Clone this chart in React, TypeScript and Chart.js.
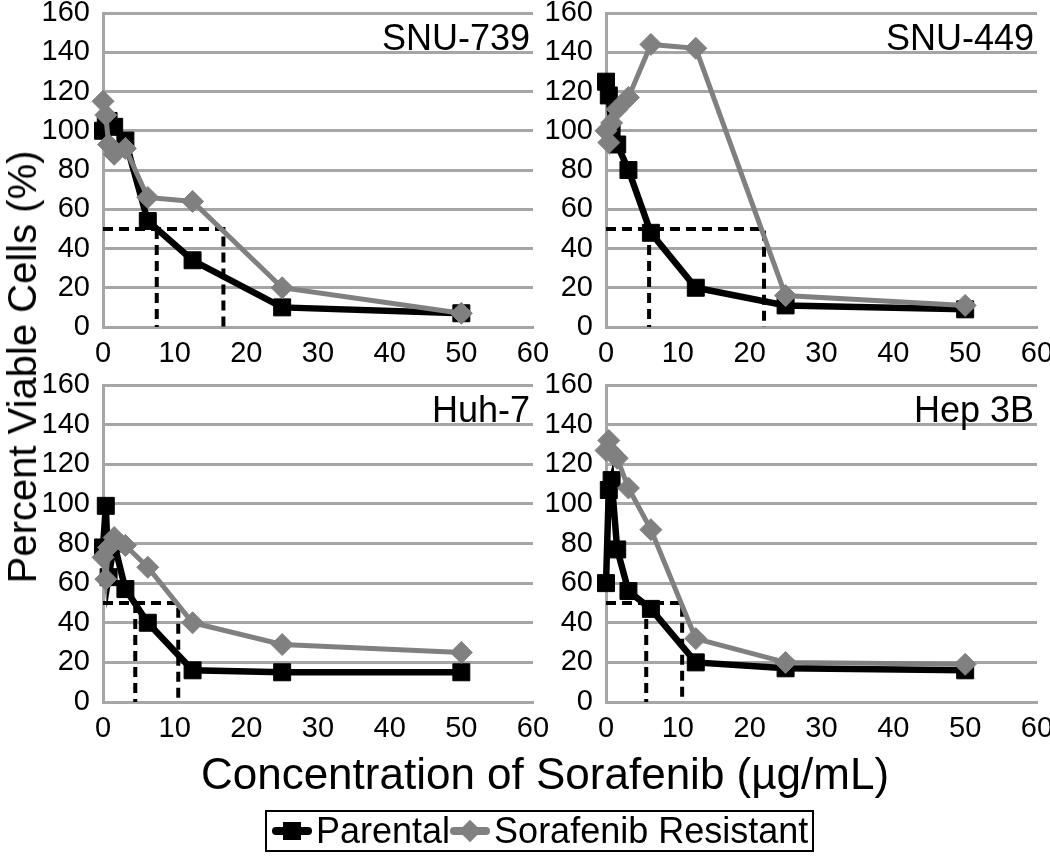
import React, { useEffect, useRef } from 'react';
import { Chart, registerables } from 'chart.js';

Chart.register(...registerables);

// ---------- data ----------
const concentrations = [0, 0.39, 0.78, 1.56, 3.125, 6.25, 12.5, 25, 50];
const panelNames = ['SNU-739', 'SNU-449', 'Huh-7', 'Hep 3B'];
const snu739Parental = [100, 104, 105, 102, 95, 54, 34, 10, 7];
const snu739Resistant = [115, 108, 93, 88, 91, 66, 64, 20, 7];
const snu449Parental = [125, 118, 100, 93, 80, 48, 20, 11, 9];
const snu449Resistant = [100, 94, 104, 111, 117, 144, 142, 16, 11];
const huh7Parental = [78, 99, 63, 80, 57, 40, 16, 15, 15];
const huh7Resistant = [73, 62, 78, 83, 79, 68, 40, 29, 25];
const hep3bParental = [60, 107, 112, 77, 56, 47, 20, 17, 16];
const hep3bResistant = [127, 132, 126, 123, 108, 87, 32, 20, 19];
const ic50Parental = [7.5, 6.0, 4.5, 5.6];
const ic50Resistant = [16.8, 22, 10.5, 10.6];
const halfViability = 50;
const xRange = [0, 60, 10];
const yRange = [0, 160, 20];
const seriesNames = ['Parental', 'Sorafenib Resistant'];
const xTitle = 'Concentration of Sorafenib (µg/mL)';
const yTitle = 'Percent Viable Cells (%)';

const parentalSeries = [snu739Parental, snu449Parental, huh7Parental, hep3bParental];
const resistantSeries = [snu739Resistant, snu449Resistant, huh7Resistant, hep3bResistant];

// ---------- style ----------
const FONT = '"Liberation Sans", Arial, sans-serif';
const GRAY = '#808080';
const GRID = '#a6a6a6';
const W = 1050;
const H = 857;
// chart areas: [left, right, top, bottom]
const AREAS = [
  [103, 533, 10, 327],
  [606, 1037, 10, 327],
  [103, 533, 385, 702],
  [606, 1037, 385, 702],
];
const YAXIS_W = 80;
const XAXIS_H = 50;

const panelLabel = {
  id: 'panelLabel',
  afterDatasetsDraw(chart: any, _args: any, opts: any) {
    const { ctx, chartArea } = chart;
    ctx.save();
    ctx.font = `36px ${FONT}`;
    ctx.fillStyle = '#000';
    ctx.textAlign = 'right';
    ctx.textBaseline = 'alphabetic';
    ctx.fillText(opts.text, chartArea.right - 3, chartArea.top + 37);
    ctx.restore();
  },
};

function pts(vals: number[]) {
  return concentrations.map((c, i) => ({ x: c, y: vals[i] }));
}

function zeroPad(s: any) {
  s.paddingLeft = 0;
  s.paddingRight = 0;
  s.paddingTop = 0;
  s.paddingBottom = 0;
}

function makeConfig(i: number): any {
  const [L, R, T, B] = AREAS[i];
  const tickFont = { family: FONT, size: 29 };
  const dashed = {
    borderColor: '#000',
    borderWidth: 4,
    borderDash: [10, 6],
    pointRadius: 0,
    tension: 0,
    clip: false,
    order: 2,
  };
  return {
    type: 'line',
    data: {
      datasets: [
        {
          label: seriesNames[1],
          data: pts(resistantSeries[i]),
          borderColor: GRAY,
          backgroundColor: GRAY,
          borderWidth: 5,
          pointStyle: 'rectRot',
          pointRadius: 11,
          pointBackgroundColor: GRAY,
          pointBorderColor: GRAY,
          pointBorderWidth: 1,
          tension: 0,
          clip: false,
          order: 0,
        },
        {
          label: seriesNames[0],
          data: pts(parentalSeries[i]),
          borderColor: '#000',
          backgroundColor: '#000',
          borderWidth: 6.5,
          pointStyle: 'rect',
          pointRadius: 12,
          pointBackgroundColor: '#000',
          pointBorderColor: '#000',
          pointBorderWidth: 1,
          tension: 0,
          clip: false,
          order: 1,
        },
        {
          label: 'IC50 resistant',
          data: [
            { x: 0, y: halfViability },
            { x: ic50Resistant[i], y: halfViability },
            { x: ic50Resistant[i], y: 0 },
          ],
          ...dashed,
        },
        {
          label: 'IC50 parental',
          data: [
            { x: ic50Parental[i], y: halfViability },
            { x: ic50Parental[i], y: 0 },
          ],
          ...dashed,
        },
      ],
    },
    options: {
      responsive: false,
      animation: false,
      devicePixelRatio: 1,
      events: [],
      layout: {
        padding: { left: L - YAXIS_W, top: T, right: W - R, bottom: H - B - XAXIS_H },
      },
      plugins: {
        legend: { display: false },
        tooltip: { enabled: false },
        panelLabel: { text: panelNames[i] },
      },
      scales: {
        x: {
          type: 'linear',
          min: xRange[0],
          max: xRange[1],
          ticks: { stepSize: xRange[2], font: tickFont, color: '#000', padding: 10, maxRotation: 0, autoSkip: false },
          grid: { display: false, drawTicks: false },
          border: { display: true, color: GRID, width: 3 },
          afterFit: (s: any) => {
            s.height = XAXIS_H;
            zeroPad(s);
          },
        },
        y: {
          type: 'linear',
          min: yRange[0],
          max: yRange[1],
          ticks: { stepSize: yRange[2], font: tickFont, color: '#000', padding: 13 },
          grid: { color: GRID, lineWidth: 3, drawTicks: false },
          border: { display: true, color: GRID, width: 3 },
          afterFit: (s: any) => {
            s.width = YAXIS_W;
            zeroPad(s);
          },
        },
      },
    },
    plugins: [panelLabel],
  };
}

function Panel({ index }: { index: number }) {
  const ref = useRef<HTMLCanvasElement>(null);
  useEffect(() => {
    if (!ref.current) return;
    const chart = new Chart(ref.current, makeConfig(index));
    return () => chart.destroy();
  }, [index]);
  return (
    <canvas
      ref={ref}
      width={W}
      height={H}
      style={{ position: 'absolute', left: 0, top: 0, width: W, height: H }}
    />
  );
}

function LegendSymbol({ color, diamond }: { color: string; diamond: boolean }) {
  return (
    <div style={{ position: 'relative', width: 40, height: 30, flex: '0 0 auto' }}>
      <div style={{ position: 'absolute', left: 0, top: 11, width: 40, height: 8, background: color, borderRadius: 4 }} />
      {diamond ? (
        <div
          style={{
            position: 'absolute',
            left: 12,
            top: 7,
            width: 16,
            height: 16,
            background: color,
            transform: 'rotate(45deg)',
          }}
        />
      ) : (
        <div style={{ position: 'absolute', left: 11, top: 6, width: 18, height: 18, background: color }} />
      )}
    </div>
  );
}

export default function App() {
  return (
    <div
      style={{
        position: 'absolute',
        left: 0,
        top: 0,
        width: W,
        height: H,
        background: '#fff',
        overflow: 'hidden',
        fontFamily: FONT,
        color: '#000',
      }}
    >
      {[0, 1, 2, 3].map((i) => (
        <Panel key={i} index={i} />
      ))}
      <div
        style={{
          position: 'absolute',
          left: 22,
          top: 367,
          transform: 'translate(-50%, -50%) rotate(-90deg)',
          whiteSpace: 'nowrap',
          fontSize: 40,
          lineHeight: 1,
        }}
      >
        {yTitle}
      </div>
      <div
        style={{
          position: 'absolute',
          left: 545,
          top: 774,
          transform: 'translate(-50%, -50%)',
          whiteSpace: 'nowrap',
          fontSize: 44,
          lineHeight: 1,
        }}
      >
        {xTitle}
      </div>
      <div
        style={{
          position: 'absolute',
          left: 265,
          top: 810,
          height: 42,
          boxSizing: 'border-box',
          border: '2px solid #000',
          display: 'flex',
          alignItems: 'center',
          paddingLeft: 5,
          paddingRight: 4,
          fontSize: 36,
          lineHeight: 1,
          whiteSpace: 'nowrap',
        }}
      >
        <LegendSymbol color="#000" diamond={false} />
        <span style={{ marginLeft: 4 }}>{seriesNames[0]}</span>
        <LegendSymbol color={GRAY} diamond={true} />
        <span style={{ marginLeft: 4 }}>{seriesNames[1]}</span>
      </div>
    </div>
  );
}
